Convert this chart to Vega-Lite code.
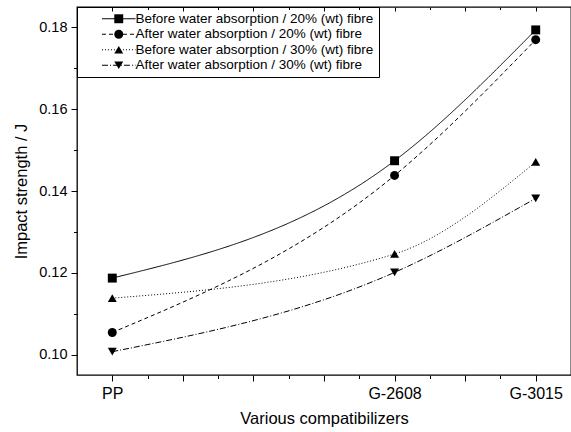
{
  "$schema": "https://vega.github.io/schema/vega-lite/v6.json",
  "width": 494,
  "height": 368,
  "autosize": {"type": "none"},
  "padding": {"left": 77, "top": 7, "right": 0, "bottom": 57},
  "background": "white",
  "config": {
    "font": "Liberation Sans",
    "view": {"stroke": "black", "strokeWidth": 1.3},
    "axis": {
      "domain": false,
      "grid": false,
      "labelColor": "black",
      "tickColor": "black",
      "tickWidth": 1,
      "titleColor": "black",
      "labelFont": "Liberation Sans",
      "titleFont": "Liberation Sans",
      "titleFontWeight": "normal",
      "labelOverlap": false,
      "labelFlush": false,
      "labelBound": false
    }
  },
  "data": {
    "values": [
      {"compatibilizer": "PP", "x": 1, "series": "Before water absorption / 20% (wt) fibre", "key": "B20", "impact": 0.1187},
      {"compatibilizer": "G-2608", "x": 5, "series": "Before water absorption / 20% (wt) fibre", "key": "B20", "impact": 0.1474},
      {"compatibilizer": "G-3015", "x": 7, "series": "Before water absorption / 20% (wt) fibre", "key": "B20", "impact": 0.1794},
      {"compatibilizer": "PP", "x": 1, "series": "After water absorption / 20% (wt) fibre", "key": "A20", "impact": 0.1054},
      {"compatibilizer": "G-2608", "x": 5, "series": "After water absorption / 20% (wt) fibre", "key": "A20", "impact": 0.1438},
      {"compatibilizer": "G-3015", "x": 7, "series": "After water absorption / 20% (wt) fibre", "key": "A20", "impact": 0.1770},
      {"compatibilizer": "PP", "x": 1, "series": "Before water absorption / 30% (wt) fibre", "key": "B30", "impact": 0.1138},
      {"compatibilizer": "G-2608", "x": 5, "series": "Before water absorption / 30% (wt) fibre", "key": "B30", "impact": 0.1246},
      {"compatibilizer": "G-3015", "x": 7, "series": "Before water absorption / 30% (wt) fibre", "key": "B30", "impact": 0.1471},
      {"compatibilizer": "PP", "x": 1, "series": "After water absorption / 30% (wt) fibre", "key": "A30", "impact": 0.1007},
      {"compatibilizer": "G-2608", "x": 5, "series": "After water absorption / 30% (wt) fibre", "key": "A30", "impact": 0.1201},
      {"compatibilizer": "G-3015", "x": 7, "series": "After water absorption / 30% (wt) fibre", "key": "A30", "impact": 0.1382}
    ]
  },
  "layer": [
    {
      "mark": {"type": "line", "interpolate": "monotone", "color": "black", "strokeWidth": 1},
      "encoding": {
        "x": {
          "field": "x", "type": "quantitative",
          "scale": {"domain": [0.5, 7.5], "nice": false, "zero": false},
          "axis": {
            "orient": "bottom",
            "values": [1, 1.5, 2, 2.5, 3, 3.5, 4, 4.5, 5, 5.5, 6, 6.5, 7],
            "labelExpr": "datum.value == 1 ? 'PP' : datum.value == 5 ? 'G-2608' : datum.value == 7 ? 'G-3015' : ''",
            "tickSize": {"condition": {"test": "datum.value % 1 == 0", "value": 6}, "value": 3.5},
            "labelFontSize": 16,
            "labelPadding": 4,
            "title": "Various compatibilizers",
            "titleFontSize": 16.5,
            "titlePadding": 9
          }
        },
        "y": {
          "field": "impact", "type": "quantitative",
          "scale": {"domain": [0.095, 0.185], "nice": false, "zero": false},
          "axis": {
            "values": [0.1, 0.11, 0.12, 0.13, 0.14, 0.15, 0.16, 0.17, 0.18],
            "labelExpr": "round(datum.value * 100) % 2 == 0 ? format(datum.value, '.2f') : ''",
            "tickSize": {"condition": {"test": "round(datum.value * 100) % 2 == 0", "value": 6}, "value": 3.5},
            "labelFontSize": 14.5,
            "labelPadding": 4,
            "title": "Impact strength / J",
            "titleFontSize": 16.5,
            "titlePadding": 9
          }
        },
        "detail": {"field": "key"},
        "strokeDash": {
          "field": "key", "type": "nominal",
          "scale": {
            "domain": ["B20", "A20", "B30", "A30"],
            "range": [[1, 0], [4, 3], [1, 2], [6, 2, 1, 2]]
          },
          "legend": {
            "orient": "none", "legendX": 0, "legendY": 0,
            "title": null,
            "symbolType": "M-3.75,0H3.75",
            "symbolSize": 80,
            "symbolStrokeWidth": 1,
            "symbolStrokeColor": "black",
            "symbolFillColor": "transparent",
            "labelExpr": "''",
            "labelFontSize": 13.5,
            "rowPadding": 0.5,
            "padding": 5,
            "symbolOffset": 30,
            "zindex": 1
          }
        }
      }
    },
    {
      "mark": {"type": "point", "filled": true, "color": "black", "opacity": 1, "size": 80},
      "encoding": {
        "x": {
          "field": "x", "type": "quantitative",
          "scale": {"domain": [0.5, 7.5], "nice": false, "zero": false},
          "axis": {
            "orient": "top",
            "values": [1, 1.5, 2, 2.5, 3, 3.5, 4, 4.5, 5, 5.5, 6, 6.5, 7],
            "labels": false,
            "title": null,
            "tickSize": {"condition": {"test": "datum.value % 1 == 0", "value": -4}, "value": -2.5}
          }
        },
        "y": {"field": "impact", "type": "quantitative"},
        "shape": {
          "field": "series", "type": "nominal",
          "scale": {
            "domain": ["Before water absorption / 20% (wt) fibre", "After water absorption / 20% (wt) fibre", "Before water absorption / 30% (wt) fibre", "After water absorption / 30% (wt) fibre"],
            "range": ["square", "circle", "triangle-up", "triangle-down"]
          },
          "legend": {
            "orient": "none", "legendX": 0, "legendY": 0,
            "title": null,
            "symbolSize": 80,
            "symbolFillColor": "black",
            "symbolStrokeColor": "black",
            "symbolStrokeWidth": 0,
            "labelFontSize": 13.5,
            "labelFont": "Liberation Sans",
            "labelColor": "black",
            "labelLimit": 400,
            "labelOffset": 10,
            "labelExpr": "datum.label + '\u00a0\u00a0\u00a0\u00a0\u00a0\u00a0\u00a0\u00a0\u00a0'",
            "rowPadding": 0.5,
            "padding": 5,
            "symbolOffset": 30,
            "strokeColor": "black",
            "zindex": 2
          }
        }
      }
    }
  ],
  "resolve": {"axis": {"x": "independent"}}
}
